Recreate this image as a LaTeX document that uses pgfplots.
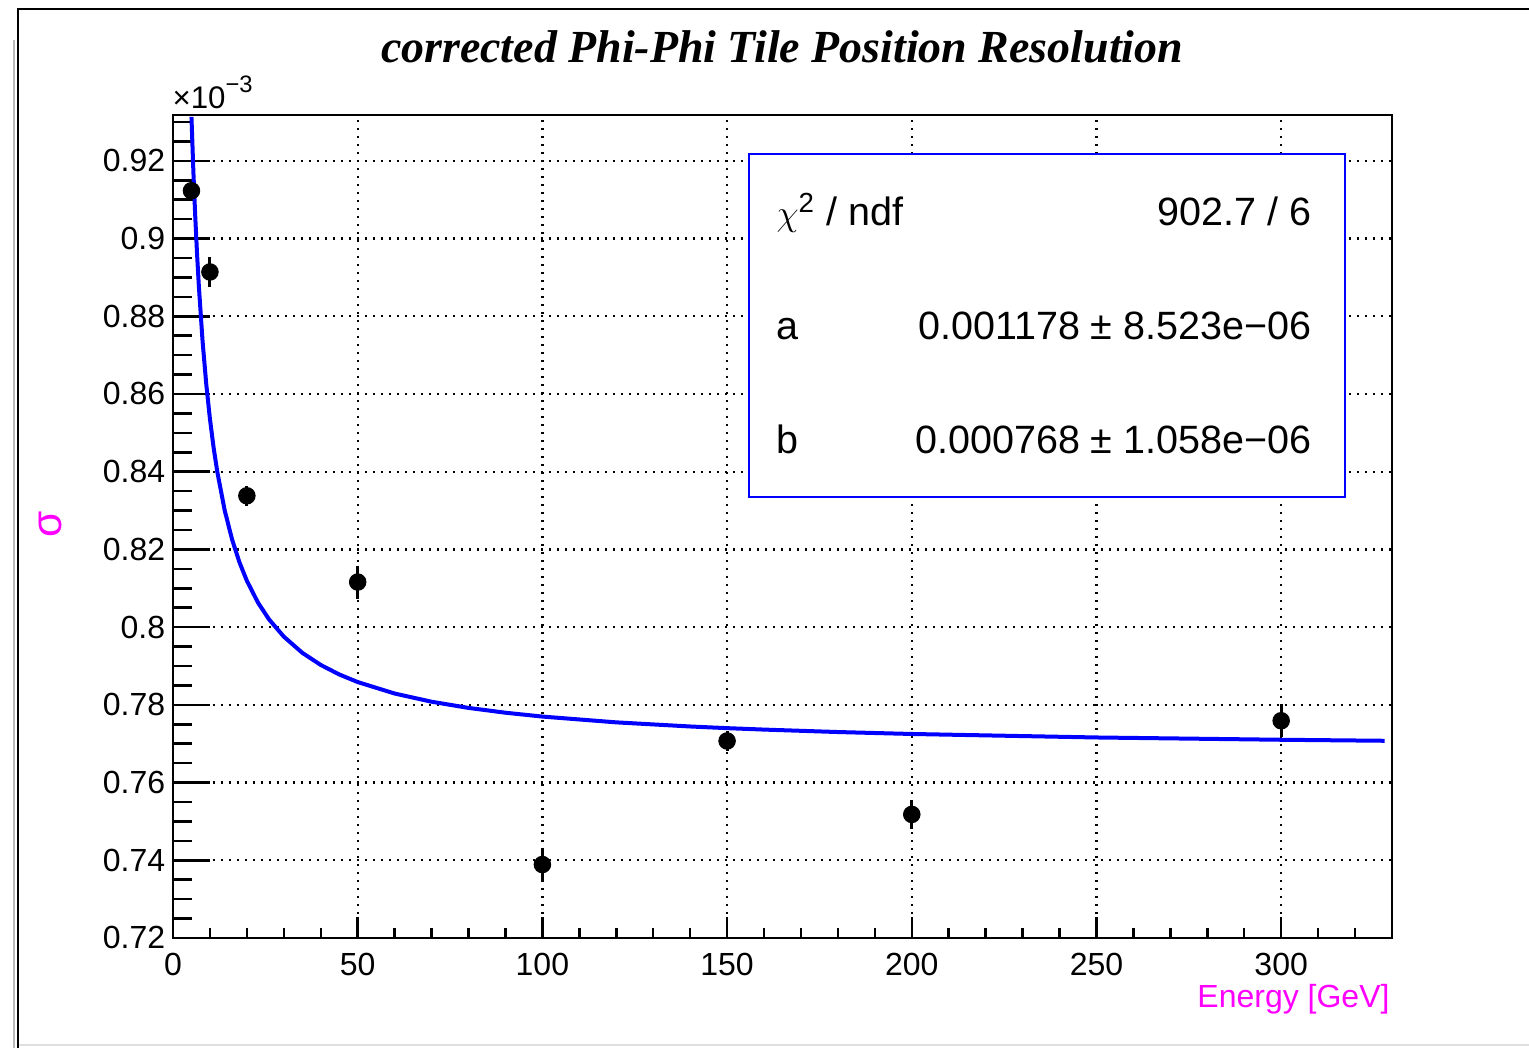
\documentclass[border=0pt]{standalone}
\usepackage{pgfplots}
\pgfplotsset{compat=1.18}
\usepackage{graphicx}
\usepackage{fontspec}
\setmainfont{Liberation Sans}
\newfontfamily\titlefont{Liberation Serif}
\definecolor{rootblue}{RGB}{0,0,255}
\definecolor{rootmagenta}{RGB}{255,0,255}

\begin{document}
\begin{tikzpicture}
% canvas
\path[use as bounding box] (0pt,0pt) rectangle (611.6pt,419.2pt);
\fill[white] (0pt,0pt) rectangle (611.6pt,419.2pt);
\draw[gray!55, line width=1pt] (5.6pt,0pt) -- (5.6pt,403pt);
\draw[gray!25, line width=0.8pt] (7.2pt,1.2pt) -- (611.6pt,1.2pt);
\draw[black, line width=0.8pt] (7.2pt,0pt) -- (7.2pt,415.6pt) -- (611.6pt,415.6pt);

\begin{axis}[
  name=ax,
  at={(69.2pt,44pt)}, anchor=south west,
  scale only axis,
  width=487.6pt, height=329.2pt,
  xmin=0, xmax=330,
  ymin=0.72, ymax=0.9318,
  axis line style={line width=1.1pt},
  tick pos=left,
  tick align=inside,
  xtick={0,50,100,150,200,250,300},
  minor xtick={10,20,30,40,60,70,80,90,110,120,130,140,160,170,180,190,210,220,230,240,260,270,280,290,310,320},
  ytick={0.72,0.74,0.76,0.78,0.8,0.82,0.84,0.86,0.88,0.9,0.92},
  minor ytick={0.725,0.73,0.735,0.745,0.75,0.755,0.765,0.77,0.775,0.785,0.79,0.795,0.805,0.81,0.815,0.825,0.83,0.835,0.845,0.85,0.855,0.865,0.87,0.875,0.885,0.89,0.895,0.905,0.91,0.915,0.925,0.93},
  xtick style={line width=1pt, black, /pgfplots/major tick length=8.4pt, /pgfplots/minor tick length=4pt},
  ytick style={line width=1pt, black, /pgfplots/major tick length=14.8pt, /pgfplots/minor tick length=7.6pt},
  grid=major,
  major grid style={black, line width=0.9pt, dash pattern=on 0.9pt off 2.3pt},
  /pgf/number format/assume math mode=true,
  ticklabel style={font=\fontsize{12.8}{14}\selectfont},
  xticklabel style={yshift=-2.6pt},
  yticklabel style={xshift=0.4pt},
  xlabel={Energy [GeV]},
  xlabel style={at={(axis description cs:0.9984,-0.0741)}, anchor=east, inner sep=0pt, text=rootmagenta, font=\fontsize{12.8}{14}\selectfont},
  ylabel={σ},
  ylabel style={at={(axis description cs:-0.1009,0.502)}, anchor=center, inner sep=0pt, text=rootmagenta, font=\fontsize{17}{18}\selectfont},
  title={\resizebox{320.8pt}{!}{\titlefont\bfseries\itshape corrected Phi-Phi Tile Position Resolution}},
  title style={at={(axis description cs:0.4996,1.0826)}, anchor=center, yshift=-6pt, inner sep=0pt},
]
% measured points (values in units of 1e-3)
\addplot[only marks, mark=*, mark size=3.3pt, mark options={fill=black, draw=black},
  error bars/.cd, y dir=both, y explicit,
  error bar style={line width=1.1pt, black},
  error mark options={line width=1.2pt, mark size=2.4pt, black}]
  table[x=E, y=s, y error=err] {
E   s      err
5   0.9123 0.0010
10  0.8914 0.0023
20  0.8338 0.0010
50  0.8116 0.0027
100 0.7389 0.0028
150 0.7707 0.0010
200 0.7518 0.0022
300 0.7759 0.0027
};
% fit curve sigma = sqrt(a^2/E + b^2), sampled
\addplot[rootblue, line width=1.6pt, mark=none] coordinates {
(5,0.93133) (5.5,0.91768) (6,0.90615) (6.5,0.89628) (7,0.88773) (8,0.87366)
(9,0.86256) (10,0.85358) (11,0.84615) (12,0.83992) (14,0.83003) (16,0.82253)
(18,0.81665) (20,0.81192) (23,0.80632) (26,0.80199) (30,0.79755) (35,0.79339)
(40,0.79026) (45,0.78782) (50,0.78586) (60,0.78291) (70,0.78080) (80,0.77921)
(90,0.77797) (100,0.77698) (120,0.77549) (140,0.77443) (150,0.77400) (160,0.77363)
(180,0.77300) (200,0.77250) (250,0.77160) (300,0.77101) (328,0.77075)
};
\end{axis}

% x10^-3 multiplier
\node[anchor=base west, inner sep=0pt] at (68.8pt,375.6pt)
  {{\fontsize{12.5}{12.5}\selectfont ×10}\raisebox{6.6pt}{\fontsize{9.5}{9.5}\selectfont −3}};

% stat box
\draw[rootblue, line width=0.8pt, fill=white] (299.6pt,220.4pt) rectangle (538pt,357.6pt);
\begin{scope}[every node/.style={inner sep=0pt, font=\fontsize{15.8}{17}\selectfont}]
\node[anchor=base west] at (310.4pt,328.8pt) {$\chi$\textsuperscript{2} / ndf};
\node[anchor=base east] at (524.8pt,328.8pt) {902.7 / 6};
\node[anchor=base west] at (310.4pt,283.2pt) {a};
\node[anchor=base east] at (524.8pt,283.2pt) {0.001178 ± 8.523e−06};
\node[anchor=base west] at (310.4pt,237.6pt) {b};
\node[anchor=base east] at (524.8pt,237.6pt) {0.000768 ± 1.058e−06};
\end{scope}
\end{tikzpicture}
\end{document}
